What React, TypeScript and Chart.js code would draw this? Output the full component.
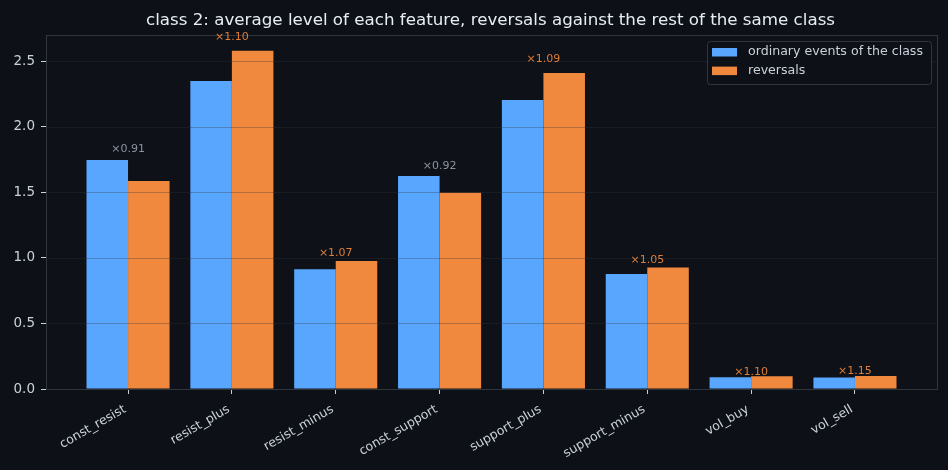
import React, { useEffect, useRef } from 'react';
import { Chart, registerables } from 'chart.js';

Chart.register(...registerables);

const features = [
    'const_resist', 'resist_plus', 'resist_minus', 'const_support',
    'support_plus', 'support_minus', 'vol_buy', 'vol_sell'
];
const ordinaryMeans = [1.746, 2.35, 0.914, 1.624, 2.205, 0.878, 0.089, 0.087];
const reversalMeans = [1.586, 2.579, 0.976, 1.497, 2.41, 0.926, 0.098, 0.1];
const ratioLabels = ['×0.91', '×1.10', '×1.07', '×0.92', '×1.09', '×1.05', '×1.10', '×1.15'];
const yTicks = [0, 0.5, 1.0, 1.5, 2.0, 2.5];

const FONT = "'DejaVu Sans', sans-serif";
const BG = '#0d1117';
const AXES_BG = '#0e1118';
const EDGE = '#30363d';
const TEXT = '#c9d1d9';
const BLUE = '#58a6ff';
const ORANGE = '#f0883e';

const App: React.FC = () => {
    const canvasRef = useRef<HTMLCanvasElement>(null);
    const chartRef = useRef<Chart | null>(null);

    useEffect(() => {
        document.body.style.margin = '0';
        if (!canvasRef.current) return;
        if (chartRef.current) chartRef.current.destroy();
        const ctx = canvasRef.current.getContext('2d');
        if (!ctx) return;

        // background, frame, grid above bars, ratio labels, legend, title
        const decor = {
            id: 'decor',
            beforeDraw(chart: any) {
                const c = chart.ctx;
                const a = chart.chartArea;
                c.save();
                c.fillStyle = BG;
                c.fillRect(0, 0, chart.width, chart.height);
                c.fillStyle = AXES_BG;
                c.fillRect(a.left, a.top, a.right - a.left, a.bottom - a.top);
                c.restore();
            },
            afterDatasetsDraw(chart: any) {
                const c = chart.ctx;
                const a = chart.chartArea;
                const ys = chart.scales.y;
                const xs = chart.scales.x;
                c.save();
                // grid lines over the bars
                c.strokeStyle = 'rgba(48,54,61,0.4)';
                c.lineWidth = 0.8;
                yTicks.forEach((t) => {
                    if (t === 0) return;
                    const py = Math.round(ys.getPixelForValue(t)) + 0.5;
                    c.beginPath();
                    c.moveTo(a.left, py);
                    c.lineTo(a.right, py);
                    c.stroke();
                });
                // frame
                c.strokeStyle = EDGE;
                c.lineWidth = 1;
                c.strokeRect(Math.round(a.left) + 0.5, Math.round(a.top) + 0.5,
                    Math.round(a.right - a.left), Math.round(a.bottom - a.top));
                // ratio labels
                c.font = `11px ${FONT}`;
                c.textAlign = 'center';
                c.textBaseline = 'middle';
                features.forEach((_, i) => {
                    const top = Math.max(ordinaryMeans[i], reversalMeans[i]);
                    const up = reversalMeans[i] >= ordinaryMeans[i];
                    c.fillStyle = up ? '#db7d38' : '#8b949e';
                    c.fillText(ratioLabels[i], xs.getPixelForValue(i),
                        ys.getPixelForValue(top * 1.03 + 0.03));
                });
                // legend
                const lx = 707, ly = 41, lw = 224, lh = 43;
                c.fillStyle = 'rgba(13,17,23,0.85)';
                c.strokeStyle = EDGE;
                c.lineWidth = 1;
                c.beginPath();
                c.roundRect(lx + 0.5, ly + 0.5, lw, lh, 3);
                c.fill();
                c.stroke();
                c.font = `12.6px ${FONT}`;
                c.textAlign = 'left';
                c.textBaseline = 'middle';
                chart.data.datasets.forEach((ds: any, i: number) => {
                    const cy = 52 + i * 18.6;
                    c.fillStyle = ds.backgroundColor;
                    c.fillRect(712, cy - 4, 25, 8.5);
                    c.fillStyle = TEXT;
                    c.fillText(ds.label, 748, cy);
                });
                // title
                c.font = `16.7px ${FONT}`;
                c.textAlign = 'center';
                c.fillStyle = '#e6edf3';
                c.fillText('class 2: average level of each feature, reversals against the rest of the same class',
                    (a.left + a.right) / 2 - 1, 20.5);
                c.restore();
            }
        };

        chartRef.current = new Chart(ctx, {
            type: 'bar',
            data: {
                datasets: [
                    {
                        label: 'ordinary events of the class',
                        data: ordinaryMeans.map((v, i) => ({ x: i, y: v })),
                        backgroundColor: BLUE,
                        borderWidth: 0,
                        inflateAmount: 0
                    },
                    {
                        label: 'reversals',
                        data: reversalMeans.map((v, i) => ({ x: i, y: v })),
                        backgroundColor: ORANGE,
                        borderWidth: 0,
                        inflateAmount: 0
                    }
                ]
            },
            options: {
                animation: false,
                responsive: true,
                maintainAspectRatio: false,
                layout: { padding: { top: 35, right: 11, left: 0, bottom: 0 } },
                datasets: { bar: { categoryPercentage: 0.8, barPercentage: 1.0 } },
                plugins: {
                    legend: { display: false },
                    title: { display: false },
                    tooltip: { enabled: false }
                },
                scales: {
                    x: {
                        type: 'linear',
                        offset: false,
                        min: -0.79,
                        max: 7.79,
                        afterBuildTicks: (scale: any) => {
                            scale.ticks = features.map((_, i) => ({ value: i }));
                        },
                        afterFit: (scale: any) => { scale.height = 81; },
                        grid: {
                            drawOnChartArea: false,
                            drawTicks: true,
                            tickLength: 5,
                            tickColor: TEXT,
                            offset: false
                        },
                        border: { display: false },
                        ticks: {
                            autoSkip: false,
                            minRotation: 30,
                            maxRotation: 30,
                            padding: 8,
                            labelOffset: -3,
                            color: TEXT,
                            font: { family: FONT, size: 12.5 },
                            callback: (v: any) => features[v as number] ?? ''
                        }
                    },
                    y: {
                        min: 0,
                        max: 2.7,
                        afterBuildTicks: (scale: any) => {
                            scale.ticks = yTicks.map((v) => ({ value: v }));
                        },
                        afterFit: (scale: any) => { scale.width = 46; },
                        grid: {
                            drawOnChartArea: false,
                            drawTicks: true,
                            tickLength: 5,
                            tickColor: TEXT
                        },
                        border: { display: false },
                        ticks: {
                            padding: 6,
                            color: TEXT,
                            font: { family: FONT, size: 13.5 },
                            callback: (v: any) => Number(v).toFixed(1)
                        }
                    }
                }
            },
            plugins: [decor]
        });

        return () => {
            if (chartRef.current) {
                chartRef.current.destroy();
                chartRef.current = null;
            }
        };
    }, []);

    return (
        <div style={{ width: 948, height: 470, background: BG, position: 'relative' }}>
            <canvas ref={canvasRef} />
        </div>
    );
};

export default App;
